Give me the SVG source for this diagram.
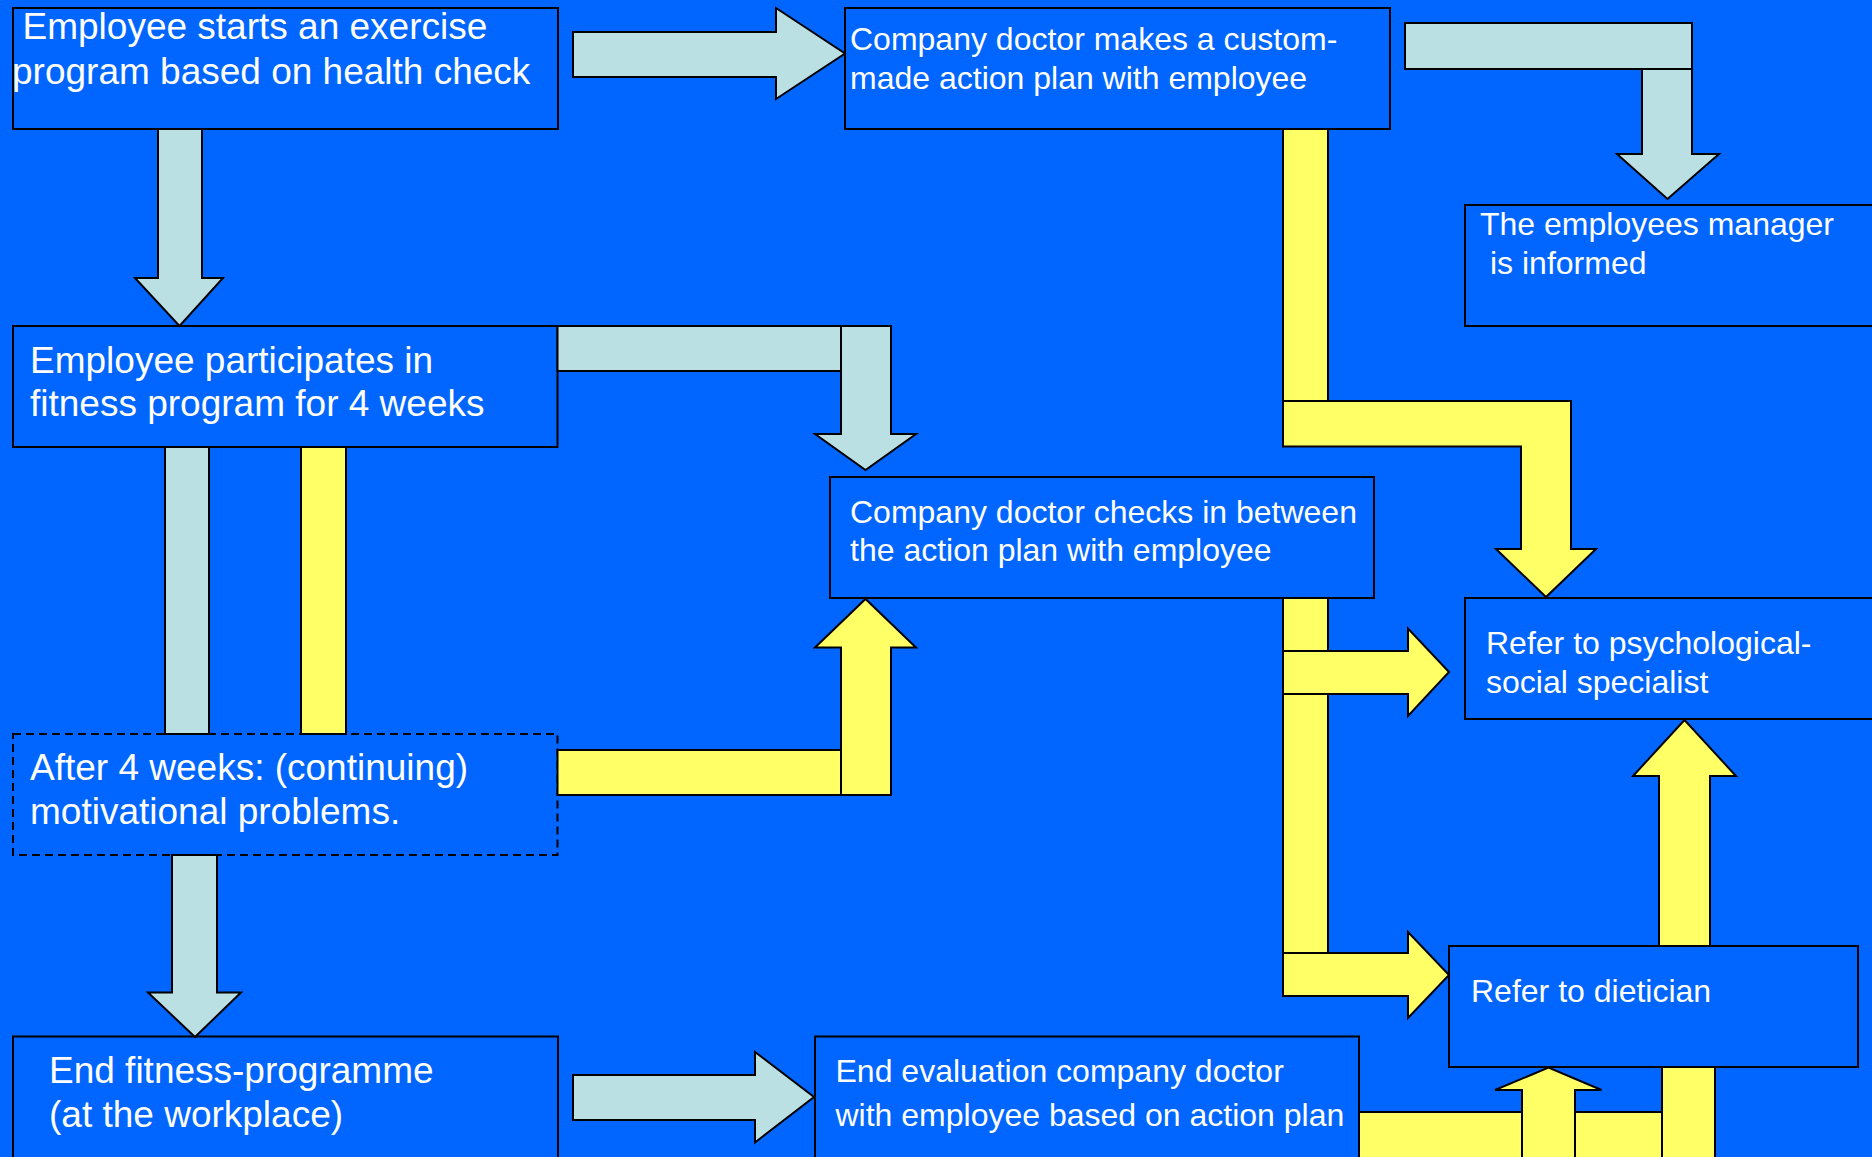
<svg xmlns="http://www.w3.org/2000/svg" width="1872" height="1157" viewBox="0 0 1872 1157">
<style>
.bg{fill:#0066FF}
.box{fill:#0066FF;stroke:#000;stroke-width:2}
.dash{fill:#0066FF;stroke:#000;stroke-width:2;stroke-dasharray:8 5}
.lb{fill:#BBE0E3;stroke:#000;stroke-width:2;stroke-linejoin:miter}
.yl{fill:#FFFF66;stroke:#000;stroke-width:2;stroke-linejoin:miter}
text{fill:#fff;font-family:"Liberation Sans",Arial,sans-serif}
.big{font-size:37px}
.sm{font-size:32px}
</style>
<rect class="bg" x="0" y="0" width="1872" height="1157"/>
<g id="nodes">
<g id="n1"><rect class="box" x="13" y="8" width="545" height="121"/>
<text class="big" x="22.5" y="39">Employee starts an exercise</text>
<text class="big" x="12" y="84">program based on health check</text></g>
<g id="n2"><rect class="box" x="845" y="8" width="545" height="121"/>
<text class="sm" x="850" y="49.5">Company doctor makes a custom-</text>
<text class="sm" x="850" y="88.5">made action plan with employee</text></g>
<g id="n3"><rect class="box" x="1465" y="205" width="420" height="121"/>
<text class="sm" x="1480" y="234.5">The employees manager</text>
<text class="sm" x="1490" y="273.5">is informed</text></g>
<g id="n4"><rect class="box" x="13" y="326" width="544.5" height="121"/>
<text class="big" x="30" y="372.5">Employee participates in</text>
<text class="big" x="30" y="415.5">fitness program for 4 weeks</text></g>
<g id="n5"><rect class="box" x="830" y="477" width="544" height="121"/>
<text class="sm" x="850" y="522.5">Company doctor checks in between</text>
<text class="sm" x="850" y="560.5">the action plan with employee</text></g>
<g id="n6"><rect class="box" x="1465" y="598" width="420" height="121"/>
<text class="sm" x="1486" y="654">Refer to psychological-</text>
<text class="sm" x="1486" y="693">social specialist</text></g>
<g id="n7"><rect class="dash" x="13" y="734" width="544.5" height="121"/>
<text class="big" x="30" y="779.5">After 4 weeks: (continuing)</text>
<text class="big" x="30" y="823.5">motivational problems.</text></g>
<g id="n8"><rect class="box" x="1449" y="946" width="409" height="121"/>
<text class="sm" x="1471" y="1001.5">Refer to dietician</text></g>
<g id="n9"><rect class="box" x="13" y="1036.5" width="545" height="140"/>
<text class="big" x="49" y="1083">End fitness-programme</text>
<text class="big" x="49" y="1127">(at the workplace)</text></g>
<g id="n10"><rect class="box" x="815" y="1036.5" width="544" height="140"/>
<text class="sm" x="835.5" y="1081.5">End evaluation company doctor</text>
<text class="sm" x="835.5" y="1126">with employee based on action plan</text></g>
</g>
<g id="connectors">
<polygon class="lb" points="573,32 776,32 776,8 845,53.5 776,99 776,77 573,77"/>
<polygon class="lb" points="1642,60 1692,60 1692,154 1719,154 1667.5,199 1617,154 1642,154"/>
<rect class="lb" x="1405" y="23" width="287" height="46"/>
<rect class="yl" x="1283" y="129" width="45" height="272"/>
<polygon class="yl" points="1283,401 1571,401 1571,549 1596,549 1546,597 1496,549 1521,549 1521,446.5 1283,446.5"/>
<polygon class="lb" points="158,129 202,129 202,278 223,278 179.5,326 135,278 158,278"/>
<rect class="lb" x="557.5" y="326" width="333.5" height="45"/>
<polygon class="lb" points="841,326 891,326 891,434 916,434 865.5,470 815,434 841,434"/>
<rect class="lb" x="165" y="447" width="44" height="287"/>
<rect class="yl" x="301" y="447" width="45" height="287"/>
<rect class="yl" x="557.5" y="750" width="333.5" height="45"/>
<polygon class="yl" points="841,795 891,795 891,647.5 916,647.5 865.5,599 815,647.5 841,647.5"/>
<rect class="yl" x="1283" y="598" width="45" height="380"/>
<polygon class="yl" points="1283,651 1408,651 1408,628.5 1449,672 1408,716 1408,694 1283,694"/>
<polygon class="yl" points="1283,953 1408,953 1408,932 1449,975 1408,1018 1408,996 1283,996"/>
<polygon class="yl" points="1659,946 1710,946 1710,776 1736,776 1684.5,720 1633,776 1659,776"/>
<polygon class="lb" points="172,855 217,855 217,992.5 241,992.5 195,1037 148,992.5 172,992.5"/>
<polygon class="lb" points="573,1075 755,1075 755,1052 814,1097 755,1142.5 755,1120 573,1120"/>
<rect class="yl" x="1359" y="1112" width="303" height="60"/>
<rect class="yl" x="1662" y="1067" width="53" height="105"/>
<polygon class="yl" points="1522,1170 1575,1170 1575,1090 1601.5,1090 1548.5,1067.5 1495,1090 1522,1090"/>
</g>
</svg>
